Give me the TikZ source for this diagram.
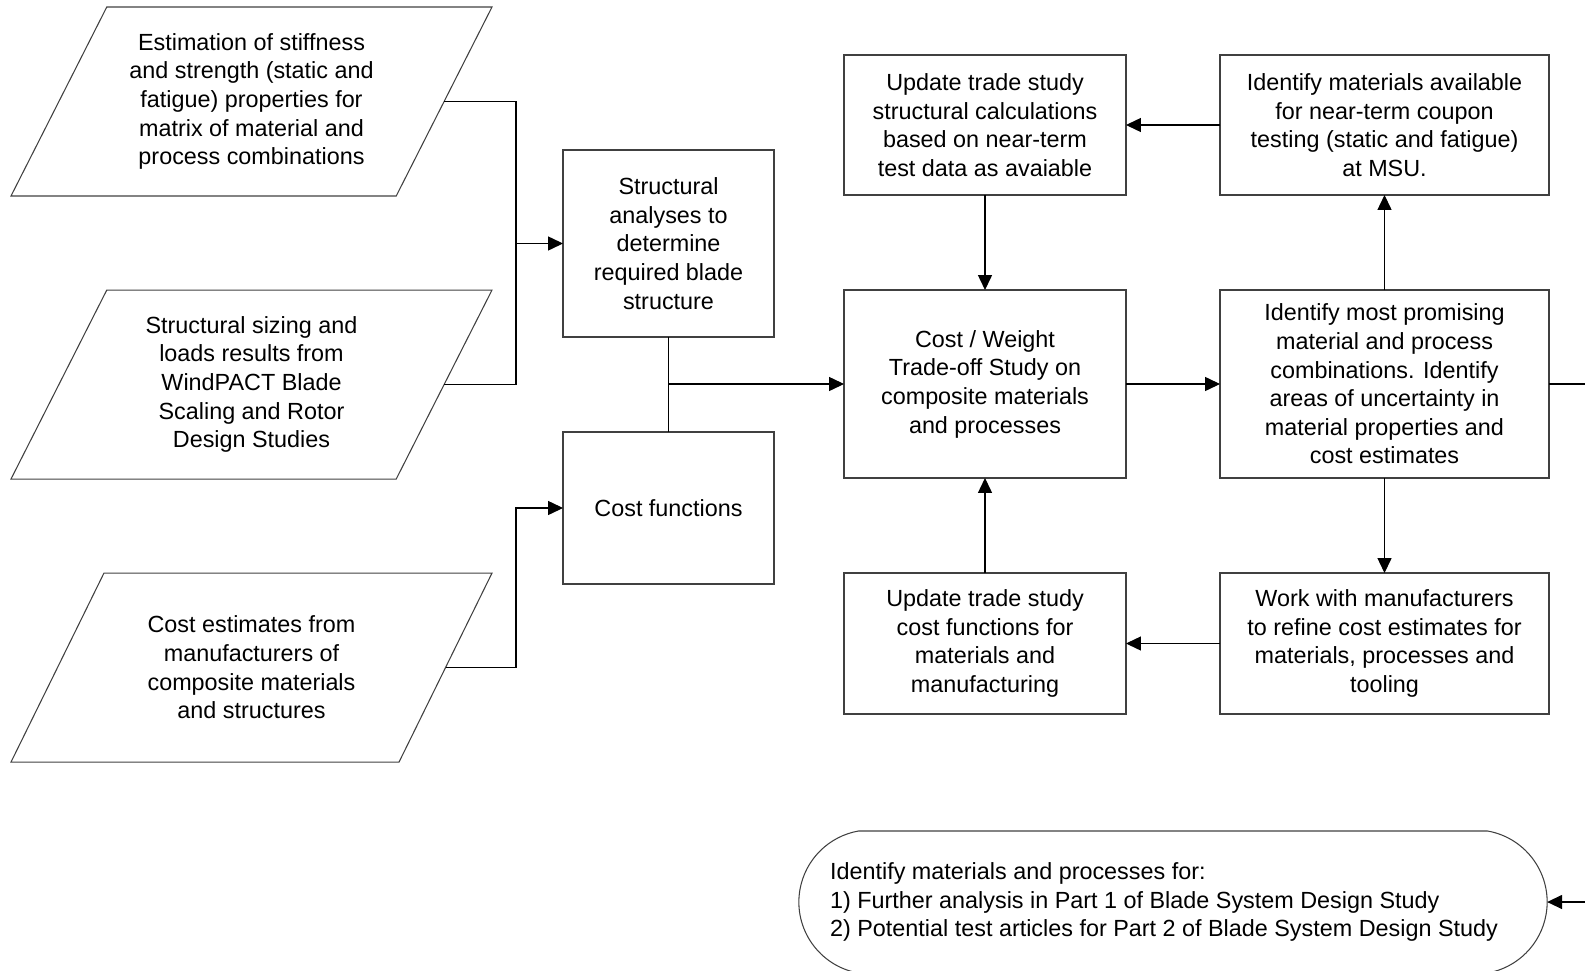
\documentclass[tikz,border=0pt]{standalone}
\usepackage{fontspec}
\setmainfont{Liberation Sans}
\usetikzlibrary{positioning,shapes.geometric,shapes.misc,arrows.meta}

\begin{document}
\begin{tikzpicture}[node distance=1.9cm,
  font=\fontsize{13.3pt}{16.3pt}\selectfont,
  box/.style={draw=black!75, line width=0.6pt, align=center, outer sep=0pt},
  datain/.style={draw=black!75, line width=0.6pt, align=center, outer sep=0pt, trapezium,
    trapezium left angle=57.1, trapezium right angle=122.9, trapezium stretches body,
    minimum width=9.62cm, minimum height=3.78cm},
  finish/.style={draw=black!75, line width=0.6pt, align=left, outer sep=0pt, rounded rectangle,
    rounded rectangle arc length=160, minimum width=15.2cm, minimum height=2.84cm},
  arr/.style={-{Triangle[length=8.5pt,width=8pt]}, line width=0.6pt}]
\useasboundingbox (0,0) rectangle (31.7,-19.4);

\node[datain] (props) at (5.03,-2.03) {Estimation of stiffness\\and strength (static and\\fatigue) properties for\\matrix of material and\\process combinations};
\node[datain, below=1.88cm of props] (sizing) {Structural sizing and\\loads results from\\WindPACT Blade\\Scaling and Rotor\\Design Studies};
\node[datain, trapezium left angle=51, trapezium right angle=129, below=1.88cm of sizing] (costest) {Cost estimates from\\manufacturers of\\composite materials\\and structures};

\node[box, minimum width=4.22cm, minimum height=3.74cm] (struct) at (13.37,-4.87) {Structural\\analyses to\\determine\\required blade\\structure};
\node[box, minimum width=4.22cm, minimum height=3.04cm, below=of struct] (costfn) {Cost functions};

\node[box, minimum width=5.64cm, minimum height=3.76cm] (center) at (19.7,-7.68) {Cost / Weight\\Trade-off Study on\\composite materials\\and processes};
\node[box, minimum width=5.64cm, minimum height=2.8cm, above=of center] (updtop) {Update trade study\\structural calculations\\based on near-term\\test data as avaiable};
\node[box, minimum width=5.64cm, minimum height=2.82cm, below=of center] (updbot) {Update trade study\\cost functions for\\materials and\\manufacturing};

\node[box, minimum width=6.58cm, minimum height=3.76cm, right=1.88cm of center] (promising) {Identify most promising\\material and process\\combinations. Identify\\areas of uncertainty in\\material properties and\\cost estimates};
\node[box, minimum width=6.58cm, minimum height=2.8cm, above=of promising] (idmat) {Identify materials available\\for near-term coupon\\testing (static and fatigue)\\at MSU.};
\node[box, minimum width=6.58cm, minimum height=2.82cm, below=of promising] (work) {Work with manufacturers\\to refine cost estimates for\\materials, processes and\\tooling};

\node[finish] (final) at (23.46,-18.04) {Identify materials and processes for:\\1) Further analysis in Part 1 of Blade System Design Study\\2) Potential test articles for Part 2 of Blade System Design Study\hspace*{0.36cm}};

\coordinate (bus) at (10.32,0);
\draw[line width=0.6pt] (props.east) -| (bus |- sizing.east) -- (sizing.east);
\draw[arr] (bus |- struct.west) -- (struct.west);
\draw[arr] (costest.east) -| (bus |- costfn.west) -- (costfn.west);
\draw[line width=0.6pt] (struct) -- (costfn);
\draw[arr] (struct.south |- center.west) -- (center.west);
\draw[arr] (updtop) -- (center);
\draw[arr] (idmat) -- (updtop);
\draw[arr] (center) -- (promising);
\draw[arr] (promising) -- (idmat);
\draw[arr] (promising) -- (work);
\draw[arr] (work) -- (updbot);
\draw[arr] (updbot) -- (center);
\draw[arr] (promising.east) -- ++(1.2,0) |- (final.east);
\end{tikzpicture}
\end{document}
